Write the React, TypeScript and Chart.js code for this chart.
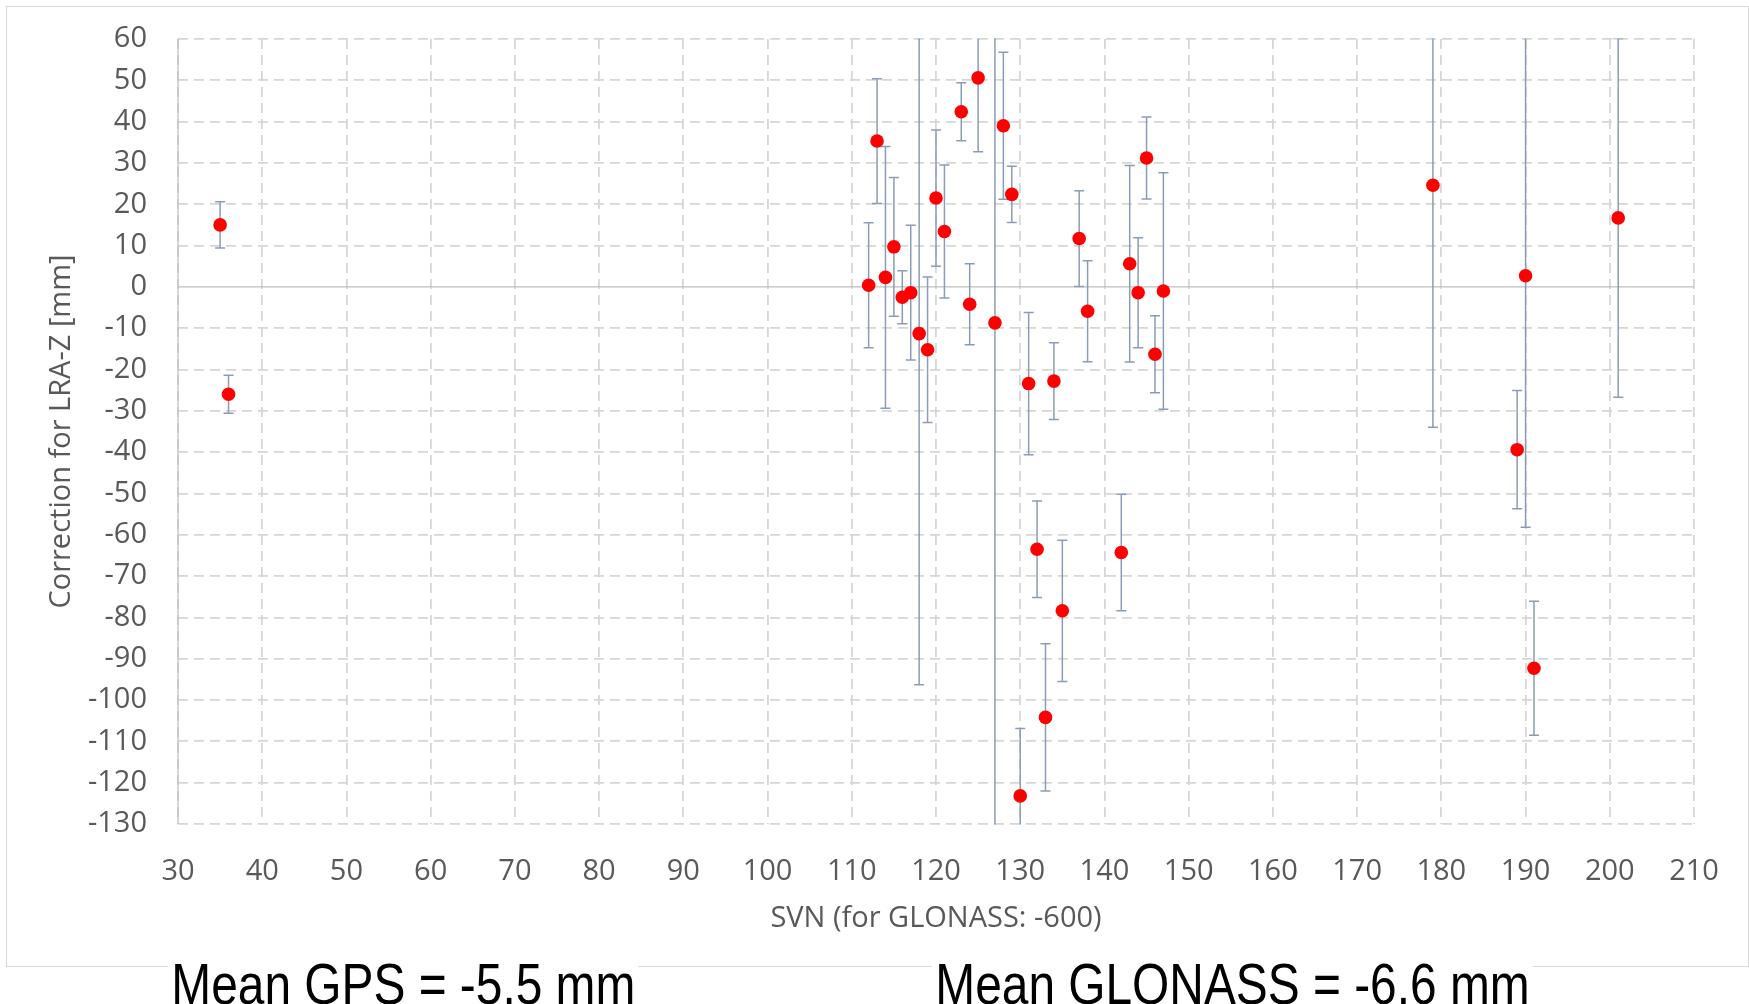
import React, { useEffect, useRef } from "react";
import { Chart, registerables } from "chart.js";

Chart.register(...registerables);

// ---- data ----
const svn = [35, 36, 112, 113, 114, 115, 116, 117, 118, 119, 120, 121, 123, 124, 125, 127, 128, 129, 130, 131, 132, 133, 134, 135, 137, 138, 142, 143, 144, 145, 146, 147, 179, 189, 190, 191, 201];
const correction = [15.0, -26.0, 0.4, 35.3, 2.3, 9.7, -2.5, -1.4, -11.3, -15.2, 21.5, 13.4, 42.4, -4.2, 50.6, -8.7, 39.0, 22.4, -123.2, -23.4, -63.5, -104.2, -22.8, -78.4, 11.7, -5.9, -64.3, 5.6, -1.4, 31.2, -16.3, -1.0, 24.6, -39.4, 2.7, -92.3, 16.7];
const errorMm = [5.6, 4.6, 15.1, 15.1, 31.7, 16.8, 6.4, 16.3, 85.0, 17.6, 16.5, 16.1, 7.0, 9.8, 17.9, 125.0, 17.8, 6.8, 16.3, 17.2, 11.7, 17.8, 9.3, 17.1, 11.6, 12.2, 14.1, 23.8, 13.3, 9.9, 9.3, 28.6, 58.6, 14.3, 60.9, 16.2, 43.4];

const xTickValues = [30, 40, 50, 60, 70, 80, 90, 100, 110, 120, 130, 140, 150, 160, 170, 180, 190, 200, 210];
const yTickValues = [-130, -120, -110, -100, -90, -80, -70, -60, -50, -40, -30, -20, -10, 0, 10, 20, 30, 40, 50, 60];

const xTitle = "SVN (for GLONASS: -600)";
const yTitle = "Correction for LRA-Z [mm]";
const meanGps = "Mean GPS = -5.5 mm";
const meanGlonass = "Mean GLONASS = -6.6 mm";

const W = 1749;
const H = 1004;
const AREA = { left: 178, top: 39, right: 1694, bottom: 824 };

const TICK_FONT = { family: "'Open Sans', sans-serif", size: 29 };
const TICK_COLOR = "#595959";

const errorBarPlugin = {
  id: "errorBarsAndAxes",
  beforeDatasetsDraw(chart: any) {
    const { ctx, chartArea: a, scales } = chart;
    const xs = scales.x;
    const ys = scales.y;
    ctx.save();
    ctx.setLineDash([]);
    // axis lines (vertical axis at left, horizontal axis crossing at 0)
    ctx.strokeStyle = "#BFBFBF";
    ctx.lineWidth = 1.25;
    const y0 = ys.getPixelForValue(0);
    ctx.beginPath();
    ctx.moveTo(a.left, y0);
    ctx.lineTo(a.right, y0);
    ctx.moveTo(a.left, a.top);
    ctx.lineTo(a.left, a.bottom);
    ctx.stroke();

    // error bars
    ctx.beginPath();
    ctx.rect(a.left, a.top - 0.5, a.right - a.left, a.bottom - a.top + 1);
    ctx.clip();
    ctx.strokeStyle = "#8A9CB8";
    ctx.lineWidth = 1.5;
    const cap = 5;
    for (let i = 0; i < svn.length; i++) {
      const px = xs.getPixelForValue(svn[i]);
      const pTop = ys.getPixelForValue(correction[i] + errorMm[i]);
      const pBot = ys.getPixelForValue(correction[i] - errorMm[i]);
      ctx.beginPath();
      ctx.moveTo(px, pTop);
      ctx.lineTo(px, pBot);
      ctx.moveTo(px - cap, pTop);
      ctx.lineTo(px + cap, pTop);
      ctx.moveTo(px - cap, pBot);
      ctx.lineTo(px + cap, pBot);
      ctx.stroke();
    }
    ctx.restore();
  },
};

export default function App() {
  const canvasRef = useRef<HTMLCanvasElement | null>(null);

  useEffect(() => {
    const canvas = canvasRef.current;
    if (!canvas) return;
    const points = svn.map((x, i) => ({ x, y: correction[i] }));
    const chart = new Chart(canvas, {
      type: "scatter",
      data: {
        datasets: [
          {
            label: "Correction",
            data: points,
            backgroundColor: "#FF0000",
            borderColor: "#FF0000",
            borderWidth: 0,
            pointRadius: 6.8,
            pointHoverRadius: 6.8,
          },
        ],
      },
      options: {
        animation: false,
        responsive: false,
        maintainAspectRatio: false,
        devicePixelRatio: 1,
        layout: { padding: { left: 0, top: AREA.top, right: W - AREA.right, bottom: 0 } },
        plugins: { legend: { display: false }, tooltip: { enabled: false }, title: { display: false } },
        scales: {
          x: {
            type: "linear",
            min: xTickValues[0],
            max: xTickValues[xTickValues.length - 1],
            afterBuildTicks: (s: any) => {
              s.ticks = xTickValues.map((v) => ({ value: v }));
            },
            afterFit: (s: any) => {
              s.height = H - AREA.bottom;
              s.paddingLeft = 0;
              s.paddingRight = 0;
            },
            ticks: {
              autoSkip: false,
              maxRotation: 0,
              padding: 30,
              color: TICK_COLOR,
              font: TICK_FONT,
            },
            grid: {
              color: "#D6D6D6",
              lineWidth: 1.8,
              drawTicks: false,
            },
            border: { display: false, dash: [10, 6] },
            title: {
              display: true,
              text: xTitle,
              color: TICK_COLOR,
              font: TICK_FONT,
              padding: { top: 0, bottom: 68 },
            },
          },
          y: {
            type: "linear",
            min: yTickValues[0],
            max: yTickValues[yTickValues.length - 1],
            afterBuildTicks: (s: any) => {
              s.ticks = yTickValues.map((v) => ({ value: v }));
            },
            afterFit: (s: any) => {
              s.width = AREA.left;
              s.paddingTop = 0;
              s.paddingBottom = 0;
            },
            ticks: {
              autoSkip: false,
              padding: 31,
              color: TICK_COLOR,
              font: TICK_FONT,
            },
            grid: {
              color: (c: any) => (c.tick && c.tick.value === 0 ? "rgba(0,0,0,0)" : "#D6D6D6"),
              lineWidth: 1.8,
              drawTicks: false,
            },
            border: { display: false, dash: [10, 6] },
            title: {
              display: true,
              text: yTitle,
              color: TICK_COLOR,
              font: TICK_FONT,
              padding: { top: 44, bottom: 0 },
            },
          },
        },
      },
      plugins: [errorBarPlugin],
    });
    return () => chart.destroy();
  }, []);

  const textStyle: React.CSSProperties = {
    position: "absolute",
    top: 955,
    fontFamily: "'Liberation Sans', Arial, sans-serif",
    fontSize: 58,
    lineHeight: "58px",
    color: "#000",
    background: "#fff",
    whiteSpace: "nowrap",
    padding: "0 4px",
    transform: "scaleX(0.825)",
    transformOrigin: "0 0",
  };

  return (
    <div
      style={{
        position: "absolute",
        left: 0,
        top: 0,
        width: W,
        height: H,
        overflow: "hidden",
        background: "#fff",
      }}
    >
      <div
        style={{
          position: "absolute",
          left: 6,
          top: 6,
          width: 1743,
          height: 961,
          boxSizing: "border-box",
          border: "1px solid #D9D9D9",
        }}
      />
      <canvas
        ref={canvasRef}
        width={W}
        height={H}
        style={{ position: "absolute", left: 0, top: 0, width: W, height: H }}
      />
      <div style={{ ...textStyle, left: 168 }}>{meanGps}</div>
      <div style={{ ...textStyle, left: 932 }}>{meanGlonass}</div>
    </div>
  );
}
